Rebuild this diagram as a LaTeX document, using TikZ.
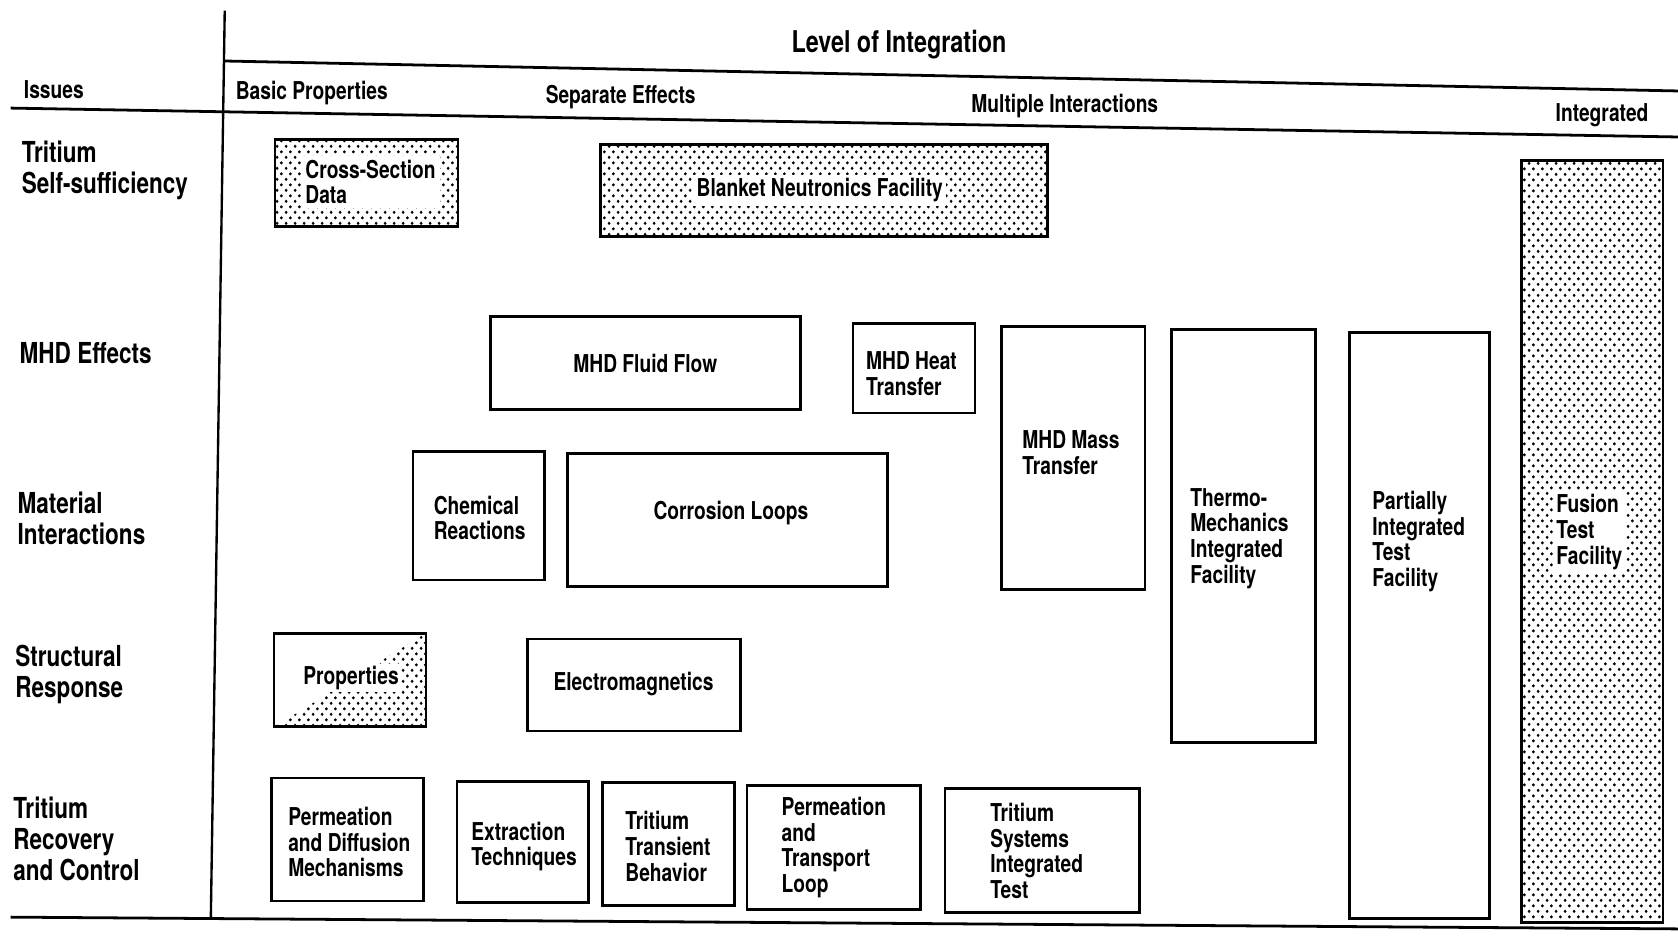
\documentclass[tikz,border=0pt]{standalone}
\usepackage{fontspec}
\newfontfamily\cond[FakeStretch=0.78]{TeX Gyre Heros}
\usetikzlibrary{patterns.meta,fit}
\tikzdeclarepattern{
  name=hexdots,
  type=uncolored,
  bottom left={(0pt,0pt)},
  top right={(4.3pt,5.1pt)},
  tile size={(4.3pt,5.1pt)},
  code={
    \pgfpathcircle{\pgfqpoint{1.075pt}{1.275pt}}{0.78pt}
    \pgfpathcircle{\pgfqpoint{3.225pt}{3.825pt}}{0.78pt}
    \pgfusepath{fill}
  }
}
\begin{document}
\begin{tikzpicture}[x=0.5pt,y=-0.5pt,
  rule/.style={line width=1.3pt},
  vrule/.style={line width=1.1pt},
  box/.style={draw, line width=1.3pt, inner sep=0pt},
  dotbox/.style={box, pattern=hexdots},
  txt/.style={font={\cond\bfseries\fontsize{11.5}{12}\selectfont}, align=left, inner sep=0pt},
  ctxt/.style={txt, align=center},
  wtxt/.style={txt, fill=white, inner sep=2pt},
  lab/.style={font={\cond\bfseries\fontsize{13.5}{14.5}\selectfont}, align=left, inner sep=0pt, anchor=west},
  hdr/.style={font={\cond\bfseries\fontsize{11.5}{13}\selectfont}, inner sep=0pt},
  ttl/.style={font={\cond\bfseries\fontsize{14}{16}\selectfont}, inner sep=0pt}
]
\useasboundingbox (0,0) rectangle (1568,884);

% rules
\coordinate (vt) at (210,10);   \coordinate (vb) at (197,858);
\coordinate (h1a) at (210,57);  \coordinate (h1b) at (1568,85);
\coordinate (h2a) at (10,101);  \coordinate (h2b) at (1568,128);
\coordinate (h3a) at (10,857);  \coordinate (h3b) at (1568,868);
\draw[vrule] (vt) -- (vb);
\draw[rule] (h1a) -- (h1b);
\draw[rule] (h2a) -- (h2b);
\draw[rule] (h3a) -- (h3b);

% headers
\node[ttl] (title) at (840,42) {Level of Integration};
\node[hdr, anchor=west] (issues) at (22,84) {Issues};
\node[hdr, anchor=west] (basic) at (220,87) {Basic Properties};
\node[hdr] (sep) at (580,91) {Separate Effects};
\node[hdr] (mult) at (995,99) {Multiple Interactions};
\node[hdr] (integ) at (1497,108) {Integrated};

% row labels
\node[lab] (r1) at (20,159) {Tritium\\Self-sufficiency};
\node[lab] (r2) at (18,330) {MHD Effects};
\node[lab] (r3) at (16,484) {Material\\Interactions};
\node[lab] (r4) at (14,630) {Structural\\Response};
\node[lab] (r5) at (12,784) {Tritium\\Recovery\\and Control};

% dotted boxes
\node[dotbox, fit={(257,130)(428,212)}] (cs) {};
\node[wtxt, anchor=west] (cst) at (281,170) {Cross-Section\\Data};
\node[dotbox, fit={(561,135)(979,221)}] (bn) {};
\node[txt, fill=white, inner sep=1.5pt] (bnt) at (766,178) {Blanket Neutronics Facility};
\node[dotbox, fit={(1422,150)(1554,862)}] (ftf) {};
\node[txt, fill=white, inner sep=1.5pt, anchor=west] (ftft) at (1451,497) {Fusion\\Test\\Facility};

% MHD row
\node[box, fit={(458,296)(748,383)}] (mff) {};
\node[ctxt] (mfft) at (mff.center) {MHD Fluid Flow};
\node[box, fit={(797,302)(911,386)}] (mht) {};
\node[txt, anchor=west] (mhtt) at (809,349) {MHD Heat\\Transfer};
\node[box, fit={(936,305)(1070,551)}] (mmt) {};
\node[txt, anchor=west] (mmtt) at (955,423) {MHD Mass\\Transfer};
\node[box, fit={(1095,308)(1229,694)}] (tmf) {};
\node[txt, anchor=west] (tmft) at (1112,503) {Thermo-\\Mechanics\\Integrated\\Facility};
\node[box, fit={(1261,311)(1392,858)}] (pit) {};
\node[txt, anchor=west] (pitt) at (1282,506) {Partially\\Integrated\\Test\\Facility};

% material row
\node[box, fit={(386,422)(509,542)}] (chr) {};
\node[txt, anchor=west] (chrt) at (405,484) {Chemical\\Reactions};
\node[box, fit={(530,424)(829,548)}] (col) {};
\node[ctxt] (colt) at (683,479) {Corrosion Loops};

% structural row
\node[box, fit={(256,592)(398,679)}] (prp) {};
\fill[pattern=hexdots] (prp.south west) -- (prp.south east) -- (prp.north east) -- cycle;
\node[txt, fill=white, inner sep=1pt] (prpt) at (328,634) {Properties};
\node[box, fit={(493,597)(692,683)}] (em) {};
\node[ctxt] (emt) at (592,639) {Electromagnetics};

% tritium recovery row
\node[box, fit={(254,727)(396,842)}] (pdm) {};
\node[txt, anchor=west] (pdmt) at (269,787) {Permeation\\and Diffusion\\Mechanisms};
\node[box, fit={(427,730)(550,843)}] (ext) {};
\node[txt, anchor=west] (extt) at (440,791) {Extraction\\Techniques};
\node[box, fit={(563,731)(686,846)}] (ttb) {};
\node[txt, anchor=west] (ttbt) at (584,791) {Tritium\\Transient\\Behavior};
\node[box, fit={(698,734)(860,850)}] (ptl) {};
\node[txt, anchor=west] (ptlt) at (730,792) {Permeation\\and\\Transport\\Loop};
\node[box, fit={(883,737)(1065,853)}] (tsi) {};
\node[txt, anchor=west] (tsit) at (925,795) {Tritium\\Systems\\Integrated\\Test};
\end{tikzpicture}
\end{document}
